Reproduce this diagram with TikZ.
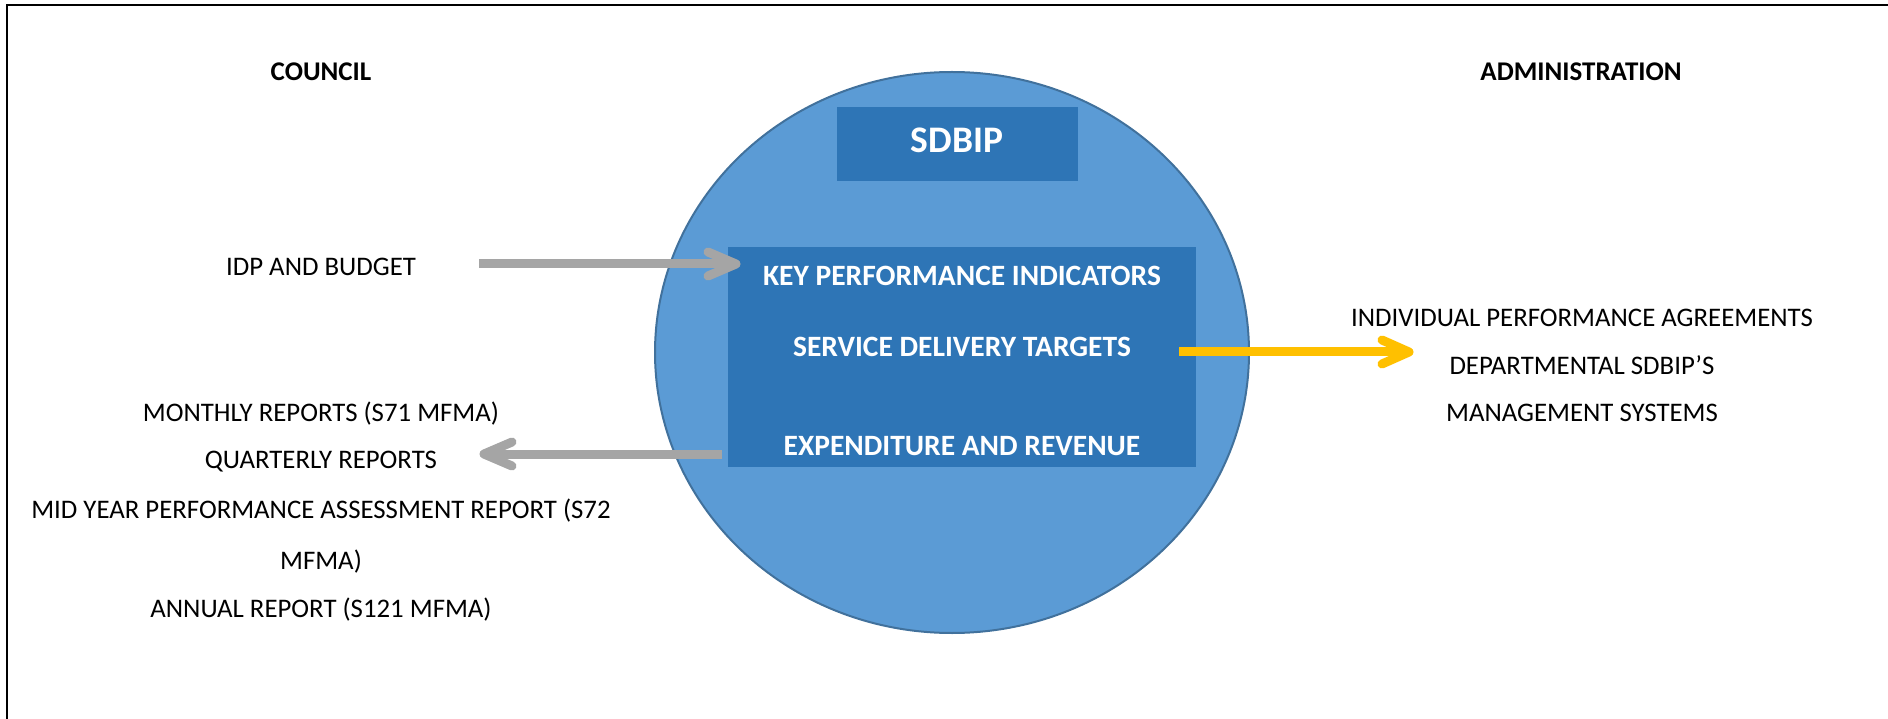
\documentclass[tikz,border=0pt]{standalone}
\usepackage{fontspec}
\setmainfont{Carlito}
\usetikzlibrary{calc,shapes.geometric}
\definecolor{circfill}{HTML}{5B9BD5}
\definecolor{circline}{HTML}{41719C}
\definecolor{boxfill}{HTML}{2E75B6}
\definecolor{arrgray}{HTML}{A5A5A5}
\definecolor{arryel}{HTML}{FFC000}
\tikzset{
  plain/.style={font=\fontsize{26.8}{30}\selectfont, anchor=base, inner sep=0pt, text=black},
  head/.style={font=\bfseries\fontsize{27}{30}\selectfont, anchor=base, inner sep=0pt, text=black},
  boxtxt/.style={font=\bfseries\fontsize{29.5}{32}\selectfont, anchor=base, inner sep=0pt, text=white},
  shaft/.style={line width=9pt, line cap=butt},
  barb/.style={line width=9pt, line cap=round, line join=round},
}
\begin{document}
\begin{tikzpicture}[x=1pt,y=-1pt]
\useasboundingbox (0,0) rectangle (1888,719);
% frame (left and top visible)
\draw[line width=2.5pt, line cap=rect] (7,719) -- (7,5) -- (1888,5);
% circle
\node[draw=circline, fill=circfill, line width=2pt, ellipse, minimum width=594pt, minimum height=561pt, inner sep=0pt] (circ) at (952,352.5) {};
% SDBIP box
\node[fill=boxfill, minimum width=241pt, minimum height=74pt, inner sep=0pt] (sdbipbox) at (957.5,144) {};
\node[font=\bfseries\fontsize{37.5}{40}\selectfont, text=white, anchor=base, inner sep=0pt] (sdbip) at (957,153) {SDBIP};
% inner box
\node[fill=boxfill, minimum width=468pt, minimum height=220pt, inner sep=0pt] (inner) at (962,357) {};
\node[boxtxt] (kpi) at (962,285.5) {KEY PERFORMANCE INDICATORS};
\node[boxtxt] (sdt) at (962,356.5) {SERVICE DELIVERY TARGETS};
\node[boxtxt] (exp) at (962,455.5) {EXPENDITURE AND REVENUE};
% headings
\node[head] (council) at (321,80.5) {COUNCIL};
\node[head] (admin) at (1581,80.5) {ADMINISTRATION};
% left texts
\node[plain] (idp) at (321,275.5) {IDP AND BUDGET};
\node[plain] (monthly) at (321,421.5) {MONTHLY REPORTS (S71 MFMA)};
\node[plain] (quarterly) at (321,468.5) {QUARTERLY REPORTS};
\node[plain] (midyear) at (321,518.5) {MID YEAR PERFORMANCE ASSESSMENT REPORT (S72};
\node[plain] (mfma) at (321,569.5) {MFMA)};
\node[plain] (annual) at (321,617.5) {ANNUAL REPORT (S121 MFMA)};
% right texts
\node[plain] (ipa) at (1582,326.5) {INDIVIDUAL PERFORMANCE AGREEMENTS};
\node[plain] (dept) at (1582,374.5) {DEPARTMENTAL SDBIP’S};
\node[plain] (mgmt) at (1582,421.5) {MANAGEMENT SYSTEMS};
% arrow coordinates
\coordinate (a1s) at (479,264);
\coordinate (a1t) at (736,264);
\coordinate (a2s) at (722,454);
\coordinate (a2t) at (484,454);
\coordinate (a3s) at (1179,352);
\coordinate (a3t) at (1409,352);
% arrow 1: IDP -> KPI
\draw[arrgray, shaft] (a1s) -- ($(a1t)+(-3,0)$);
\draw[arrgray, barb] ($(a1t)+(-28,-12)$) -- (a1t) -- ($(a1t)+(-28,12)$);
% arrow 2: box -> reports
\draw[arrgray, shaft] (a2s) -- ($(a2t)+(3,0)$);
\draw[arrgray, barb] ($(a2t)+(28,-12)$) -- (a2t) -- ($(a2t)+(28,12)$);
% arrow 3: box -> administration
\draw[arryel, shaft] (a3s) -- ($(a3t)+(-3,0)$);
\draw[arryel, barb] ($(a3t)+(-27,-12)$) -- (a3t) -- ($(a3t)+(-27,12)$);
\end{tikzpicture}
\end{document}
